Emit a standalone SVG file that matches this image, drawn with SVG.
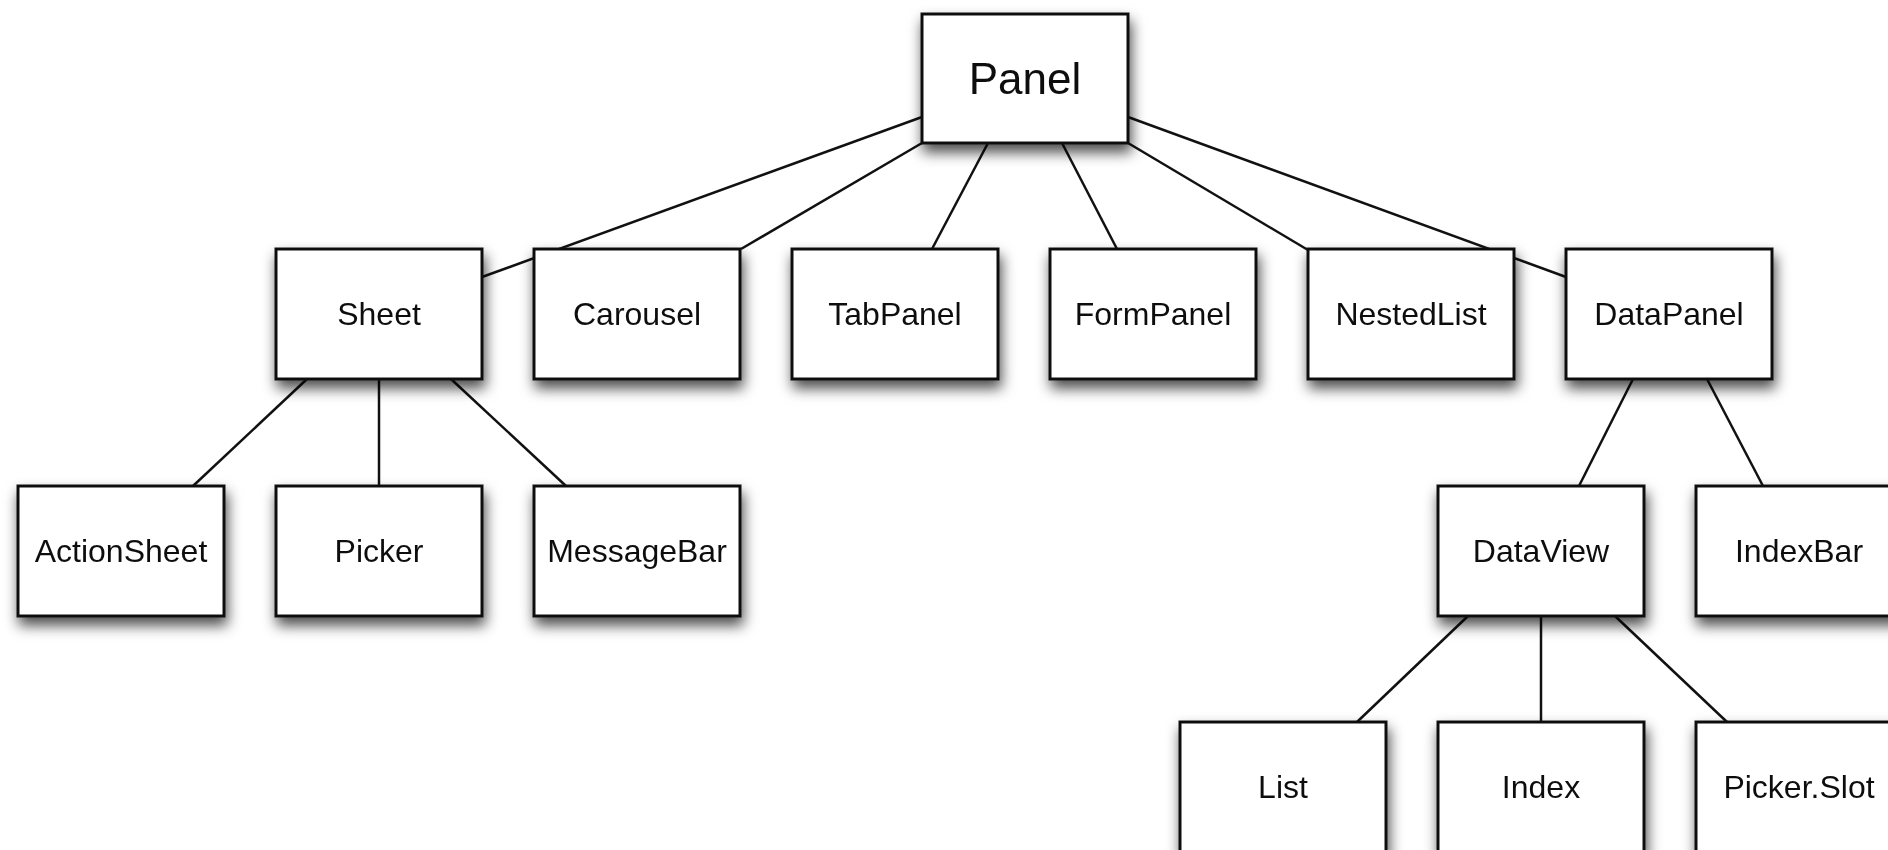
<svg xmlns="http://www.w3.org/2000/svg" width="1888" height="850" viewBox="0 0 1888 850">
  <defs>
    <filter id="shadow" x="-20%" y="-20%" width="140%" height="160%">
      <feDropShadow dx="2" dy="8" stdDeviation="7" flood-color="#000" flood-opacity="0.7"/>
    </filter>
    <style>
      .box { fill: #fff; stroke: #111; stroke-width: 3; }
      .node { filter: url(#shadow); }
      .label { font-family: "Liberation Sans", Arial, sans-serif; font-size: 32px; fill: #111; text-anchor: middle; }
      .root { font-size: 44px; }
      .edge { stroke: #111; stroke-width: 2.5; fill: none; }
    </style>
  </defs>
  <rect width="1888" height="850" fill="#fff"/>

  <!-- connectors: drawn first so boxes sit on top -->
  <g id="connectors">
    <line class="edge" x1="922" y1="117" x2="482" y2="277"/>
    <line class="edge" x1="922" y1="143" x2="741" y2="249"/>
    <line class="edge" x1="988" y1="143" x2="932" y2="249"/>
    <line class="edge" x1="1062" y1="143" x2="1117" y2="249"/>
    <line class="edge" x1="1128" y1="143" x2="1308" y2="250"/>
    <line class="edge" x1="1128" y1="117" x2="1566" y2="277"/>
    <line class="edge" x1="307" y1="379" x2="193" y2="486"/>
    <line class="edge" x1="379" y1="379" x2="379" y2="486"/>
    <line class="edge" x1="451" y1="379" x2="566" y2="486"/>
    <line class="edge" x1="1633" y1="379" x2="1579" y2="486"/>
    <line class="edge" x1="1707" y1="379" x2="1763" y2="486"/>
    <line class="edge" x1="1468" y1="616" x2="1357" y2="722"/>
    <line class="edge" x1="1541" y1="616" x2="1541" y2="722"/>
    <line class="edge" x1="1615" y1="616" x2="1727" y2="722"/>
  </g>

  <!-- root -->
  <g id="panel" class="node">
    <rect class="box" x="922" y="14" width="206" height="129"/>
    <text class="label root" x="1025" y="94">Panel</text>
  </g>

  <!-- second row -->
  <g id="sheet" class="node">
    <rect class="box" x="276" y="249" width="206" height="130"/>
    <text class="label" x="379" y="325">Sheet</text>
  </g>
  <g id="carousel" class="node">
    <rect class="box" x="534" y="249" width="206" height="130"/>
    <text class="label" x="637" y="325">Carousel</text>
  </g>
  <g id="tabpanel" class="node">
    <rect class="box" x="792" y="249" width="206" height="130"/>
    <text class="label" x="895" y="325">TabPanel</text>
  </g>
  <g id="formpanel" class="node">
    <rect class="box" x="1050" y="249" width="206" height="130"/>
    <text class="label" x="1153" y="325">FormPanel</text>
  </g>
  <g id="nestedlist" class="node">
    <rect class="box" x="1308" y="249" width="206" height="130"/>
    <text class="label" x="1411" y="325">NestedList</text>
  </g>
  <g id="datapanel" class="node">
    <rect class="box" x="1566" y="249" width="206" height="130"/>
    <text class="label" x="1669" y="325">DataPanel</text>
  </g>

  <!-- third row -->
  <g id="actionsheet" class="node">
    <rect class="box" x="18" y="486" width="206" height="130"/>
    <text class="label" x="121" y="562">ActionSheet</text>
  </g>
  <g id="picker" class="node">
    <rect class="box" x="276" y="486" width="206" height="130"/>
    <text class="label" x="379" y="562">Picker</text>
  </g>
  <g id="messagebar" class="node">
    <rect class="box" x="534" y="486" width="206" height="130"/>
    <text class="label" x="637" y="562">MessageBar</text>
  </g>
  <g id="dataview" class="node">
    <rect class="box" x="1438" y="486" width="206" height="130"/>
    <text class="label" x="1541" y="562">DataView</text>
  </g>
  <g id="indexbar" class="node">
    <rect class="box" x="1696" y="486" width="206" height="130"/>
    <text class="label" x="1799" y="562">IndexBar</text>
  </g>

  <!-- fourth row -->
  <g id="list" class="node">
    <rect class="box" x="1180" y="722" width="206" height="130"/>
    <text class="label" x="1283" y="798">List</text>
  </g>
  <g id="index" class="node">
    <rect class="box" x="1438" y="722" width="206" height="130"/>
    <text class="label" x="1541" y="798">Index</text>
  </g>
  <g id="pickerslot" class="node">
    <rect class="box" x="1696" y="722" width="206" height="130"/>
    <text class="label" x="1799" y="798">Picker.Slot</text>
  </g>
</svg>
